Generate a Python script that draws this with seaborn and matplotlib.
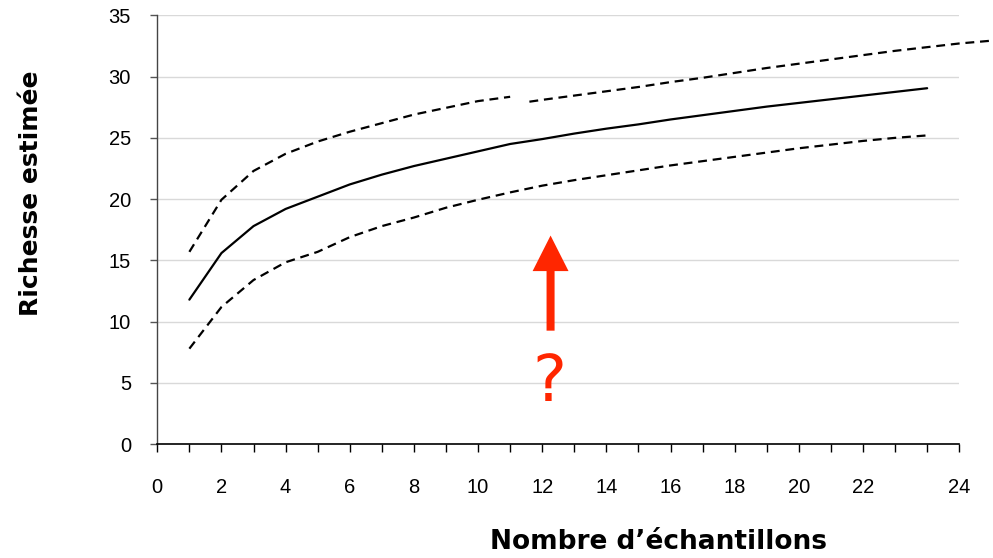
import matplotlib
matplotlib.use("Agg")
import matplotlib.pyplot as plt
import numpy as np
import pandas as pd
import seaborn as sns

# Sample counts and estimated richness (mean curve with its bounds)
samples = list(range(1, 25))
richness_mean = [11.8, 15.6, 17.8, 19.2, 20.2, 21.2, 22.0, 22.7, 23.3, 23.9,
                 24.5, 24.9, 25.35, 25.75, 26.1, 26.5, 26.85, 27.2, 27.55,
                 27.85, 28.15, 28.45, 28.75, 29.05]
richness_lower = [7.8, 11.2, 13.4, 14.85, 15.7, 16.9, 17.8, 18.5, 19.3, 19.95,
                  20.55, 21.1, 21.55, 21.95, 22.35, 22.75, 23.1, 23.45, 23.8,
                  24.15, 24.45, 24.75, 25.0, 25.2]

# Upper bound drawn in two pieces
upper_left_x = list(range(1, 12))
upper_left_y = [15.7, 19.95, 22.3, 23.7, 24.7, 25.5, 26.2, 26.9, 27.45, 28.0, 28.35]
upper_right_x = [11.6, 12, 13, 14, 15, 16, 17, 18, 19, 20, 21, 22, 23, 24, 25, 26.1]
upper_right_y = [27.95, 28.1, 28.45, 28.8, 29.15, 29.55, 29.9, 30.3, 30.7,
                 31.05, 31.4, 31.75, 32.1, 32.4, 32.7, 32.95]

x_tick_pos = list(range(0, 26))
x_tick_text = {0: "0", 2: "2", 4: "4", 6: "6", 8: "8", 10: "10", 12: "12",
               14: "14", 16: "16", 18: "18", 20: "20", 22: "22", 25: "24"}
y_ticks = [0, 5, 10, 15, 20, 25, 30, 35]

sns.set_style("white")
plt.rcParams["font.family"] = ["Liberation Sans", "DejaVu Sans"]
plt.rcParams["text.color"] = "black"
plt.rcParams["axes.labelcolor"] = "black"
plt.rcParams["xtick.color"] = "black"
plt.rcParams["ytick.color"] = "black"

fig = plt.figure(figsize=(9.93, 5.58), dpi=100)
ax = fig.add_axes([0.1584, 0.2038, 0.8076, 0.7688])

df_mean = pd.DataFrame({"n": samples, "s": richness_mean})
df_low = pd.DataFrame({"n": samples, "s": richness_lower})
df_upl = pd.DataFrame({"n": upper_left_x, "s": upper_left_y})
df_upr = pd.DataFrame({"n": upper_right_x, "s": upper_right_y})

dash = (4, 2.6)
sns.lineplot(data=df_mean, x="n", y="s", ax=ax, color="black", lw=1.6,
             estimator=None, sort=False)
for d in (df_low, df_upl, df_upr):
    sns.lineplot(data=d, x="n", y="s", ax=ax, color="black", lw=1.6,
                 estimator=None, sort=False)
for ln in ax.lines[1:]:
    ln.set_dashes(dash)
    ln.set_clip_on(False)

ax.set_xlim(0, 25)
ax.set_ylim(0, 35)
ax.set_xticks(x_tick_pos)
ax.set_xticklabels([x_tick_text.get(p, "") for p in x_tick_pos])
ax.set_yticks(y_ticks)
ax.tick_params(axis="x", direction="out", length=6, width=1, color="black",
               labelcolor="black", labelsize=14.5, pad=18, bottom=True)
ax.tick_params(axis="y", direction="out", length=5, width=1, color="#555555",
               labelcolor="black", labelsize=14.5, pad=14, left=True)
ax.grid(axis="y", color="#d9d9d9", lw=1)
ax.set_axisbelow(True)
for side in ("top", "right"):
    ax.spines[side].set_visible(False)
ax.spines["bottom"].set_color("black")
ax.spines["bottom"].set_linewidth(1.2)
ax.spines["left"].set_color("#444444")
ax.spines["left"].set_linewidth(1)

ax.set_xlabel("Nombre d\u2019échantillons", fontsize=19, fontweight="bold",
              family="DejaVu Sans", va="center", color="black")
ax.xaxis.set_label_coords(0.6256, -0.228)
ax.set_ylabel("Richesse estimée", fontsize=18, fontweight="bold",
              family="DejaVu Sans", va="center", color="black")
ax.yaxis.set_label_coords(-0.158, 0.585)

# Red arrow with a question mark underneath
red = "#ff2600"
ax.arrow(12.26, 9.27, 0, 7.76, width=0.25, head_width=1.12, head_length=2.9,
         length_includes_head=True, color=red, lw=0)
ax.text(12.22, 5.0, "?", color=red, fontsize=46, ha="center", va="center",
        family="DejaVu Sans")

fig.savefig("out.png", dpi=100)
